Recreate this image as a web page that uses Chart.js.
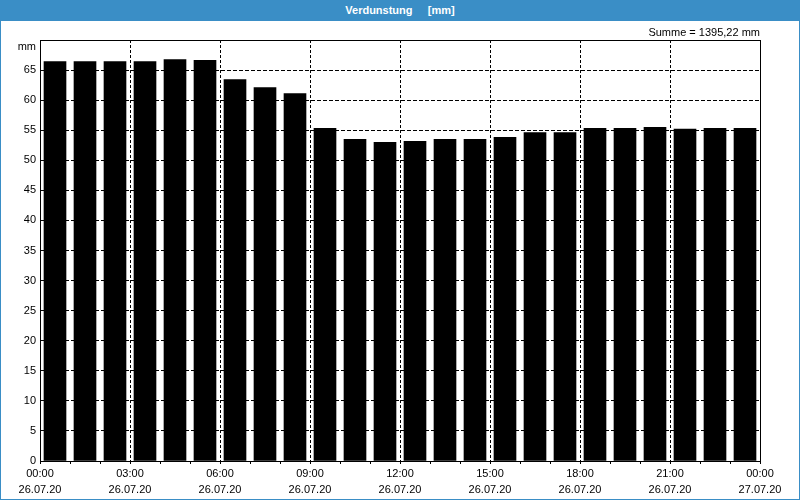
<!DOCTYPE html>
<html><head><meta charset="utf-8">
<script src="https://cdn.jsdelivr.net/npm/chart.js@4.4.0/dist/chart.umd.min.js"></script>
<style>
html,body{margin:0;padding:0;background:#fff;}
#wrap{position:relative;width:800px;height:500px;overflow:hidden;font-family:"Liberation Sans",Arial,sans-serif;background:#fff;}
#frame{position:absolute;left:0;top:0;width:800px;height:500px;box-sizing:border-box;border:1px solid #3a8ec6;pointer-events:none;}
#titlebar{position:absolute;left:0;top:0;width:800px;height:21px;background:#3a8ec6;color:#fff;font-weight:bold;font-size:11px;line-height:21px;text-align:center;white-space:pre;}
#sum{position:absolute;right:40px;top:26px;font-size:11px;line-height:13px;color:#000;white-space:pre;}
#unit{position:absolute;right:764px;top:40px;font-size:11px;line-height:13px;color:#000;}
#cv{position:absolute;left:0;top:0;}
</style>
</head>
<body>
<div id="wrap">
  <canvas id="cv" width="800" height="500"></canvas>
  <div id="titlebar">Verdunstung     [mm]</div>
  <div id="sum">Summe = 1395,22 mm</div>
  <div id="unit">mm</div>
  <div id="frame"></div>
</div>
<script>
// Hour index of each bar (start of the hourly interval, 26.07.20)
const hourStarts = [0,1,2,3,4,5,6,7,8,9,10,11,12,13,14,15,16,17,18,19,20,21,22,23];
// Verdunstung [mm]
const values = [66.4,66.4,66.4,66.4,66.75,66.6,63.4,62.1,61.1,55.3,53.5,53.0,53.15,53.5,53.5,53.8,54.6,54.6,55.3,55.3,55.5,55.2,55.3,55.3];
// X tick labels (every 3 hours)
const tickTimes = ['00:00','03:00','06:00','09:00','12:00','15:00','18:00','21:00','00:00'];
const tickDates = ['26.07.20','26.07.20','26.07.20','26.07.20','26.07.20','26.07.20','26.07.20','26.07.20','27.07.20'];

Chart.defaults.font.family = '"Liberation Sans", Arial, sans-serif';
Chart.defaults.font.size = 11;
Chart.defaults.color = '#000';

const framePlugin = {
  id: 'frame',
  afterDraw(chart) {
    const ca = chart.chartArea, ctx = chart.ctx;
    ctx.save();
    ctx.strokeStyle = '#000';
    ctx.lineWidth = 1;
    ctx.setLineDash([]);
    ctx.strokeRect(ca.left + 0.5, ca.top + 0.5, ca.right - ca.left, ca.bottom - ca.top);
    ctx.restore();
  }
};

new Chart(document.getElementById('cv'), {
  type: 'bar',
  data: {
    datasets: [{
      data: values.map((v, i) => ({x: hourStarts[i] + 0.5, y: v})),
      backgroundColor: '#000',
      borderWidth: 0,
      barThickness: 22
    }]
  },
  options: {
    responsive: false,
    animation: false,
    events: [],
    layout: {padding: {left: 0, top: 40, right: 40, bottom: 0}},
    plugins: {legend: {display: false}, tooltip: {enabled: false}, title: {display: false}},
    scales: {
      x: {
        type: 'linear',
        offset: false,
        min: 0, max: 24,
        afterFit(s) { s.height = 39; },
        ticks: {
          stepSize: 1,
          autoSkip: false,
          maxRotation: 0,
          padding: 2,
          font: {size: 11, lineHeight: 16/11},
          callback: (v) => (v % 3 === 0) ? [tickTimes[v/3], tickDates[v/3]] : ''
        },
        grid: {
          offset: false,
          color: (c) => (c.tick && c.tick.value % 3 === 0 && c.tick.value > 0 && c.tick.value < 24) ? '#000' : 'rgba(0,0,0,0)',
          lineWidth: 1,
          tickColor: '#000',
          tickLength: 3,
          tickWidth: 1,
          tickBorderDash: []
        },
        border: {display: true, color: '#000', width: 1, dash: [3, 2]}
      },
      y: {
        min: 0, max: 70,
        afterFit(s) { s.width = 40; },
        ticks: {
          stepSize: 5,
          padding: 4,
          callback: (v) => v === 70 ? '' : String(v)
        },
        grid: {
          color: (c) => (c.tick && c.tick.value > 0 && c.tick.value < 70) ? '#000' : 'rgba(0,0,0,0)',
          lineWidth: 1,
          drawTicks: false
        },
        border: {display: true, color: '#000', width: 1, dash: [4, 2]}
      }
    }
  },
  plugins: [framePlugin]
});
</script>
</body></html>
